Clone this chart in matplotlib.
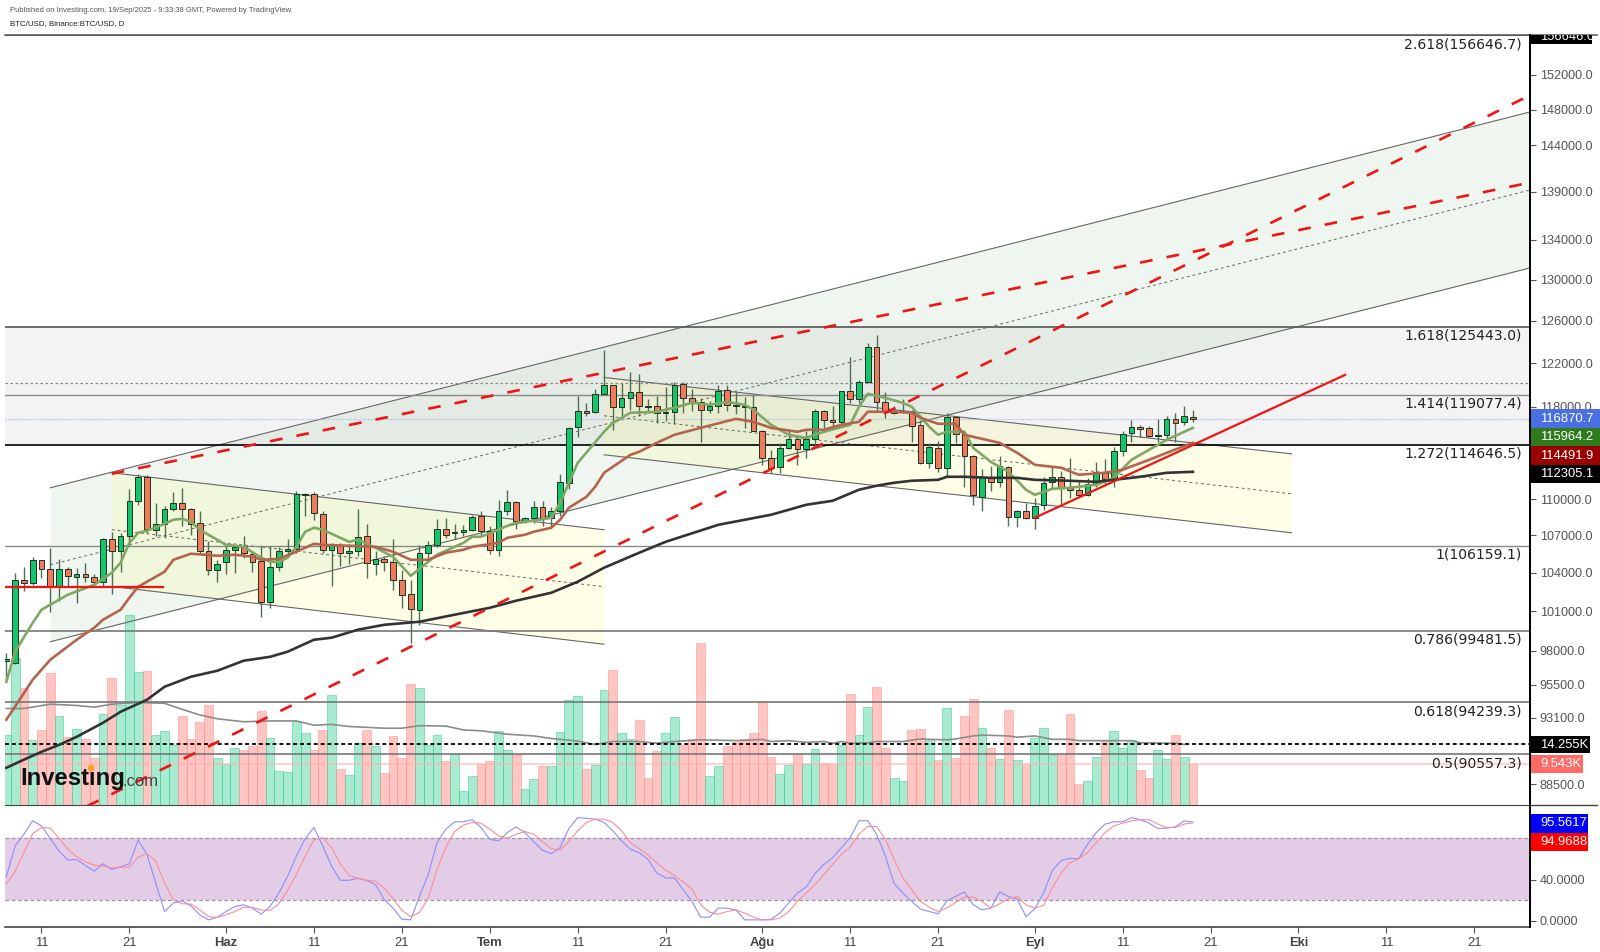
import matplotlib
matplotlib.use('Agg')
import matplotlib.pyplot as plt
from matplotlib.lines import Line2D
from matplotlib.patches import Rectangle, Circle
from matplotlib.ticker import NullLocator
from matplotlib.transforms import Bbox, IdentityTransform

W, H = 1600, 952

# days are counted from 11 May 2025, one candle per day up to 19 Sep
first_day = -4
opens = [97200, 97100, 103437, 103200, 104970, 104310, 102970, 104310, 103620, 103910, 103670, 103230,
         106720, 105750, 106960, 109850, 111880, 107400, 107940, 109185, 109685, 109185, 108020, 105700,
         104170, 104810, 105830, 106070, 105450, 104945, 101720, 104470, 105750, 105930, 110355, 110440,
         108770, 105830, 106230, 105530, 105750, 106960, 104700, 105100, 104810, 103437, 102340, 101100,
         105590, 106230, 107535, 107150, 107290, 107455, 108600, 107370, 105830, 109040, 109770, 108190,
         108380, 109350, 108380, 109040, 111370, 116220, 117640, 117560, 119180, 120000, 117950, 118810,
         119360, 118100, 118040, 117470, 117560, 120090, 118840, 118450, 117740, 118100, 119545, 118185,
         118100, 117950, 115870, 113450, 112750, 114370, 115160, 114280, 115160, 117650, 116840, 116660,
         119450, 118750, 120270, 123530, 118450, 117440, 117500, 117560, 116400, 113080, 114370, 112650,
         117130, 115600, 113680, 110190, 111880, 111400, 112680, 108520, 108960, 108380, 109460, 111400,
         111880, 110890, 110800, 110355, 111280, 112220, 111620, 114110, 115690, 116220, 116130, 115400,
         115515, 116930, 116660, 117100]
highs = [97800, 104000, 104470, 105210, 105024, 105990, 105100, 104470, 104390, 104790, 103910, 106800,
         107270, 107210, 110860, 112140, 112050, 109685, 109440, 110560, 110950, 109270, 109040, 106560,
         105024, 106150, 106230, 106960, 105700, 106100, 106100, 106070, 106720, 110640, 110525, 110560,
         109000, 106400, 106390, 106310, 109185, 107940, 105700, 105350, 106720, 104230, 103437, 106230,
         106560, 108350, 108440, 107940, 107860, 108690, 109020, 107780, 109934, 110720, 109870, 108520,
         109850, 109850, 109370, 112140, 116200, 118990, 118380, 119640, 123250, 120000, 120180, 121170,
         120950, 118720, 118990, 119760, 120300, 120300, 119640, 118810, 118540, 120000, 120000, 119300,
         118930, 119090, 115960, 114200, 114830, 115900, 115340, 115810, 117830, 117740, 118040, 119450,
         122590, 120457, 123900, 124650, 119300, 118040, 118720, 117740, 116840, 114810, 115010, 117470,
         117200, 115690, 113770, 112560, 112780, 113640, 112780, 109100, 109680, 110050, 111900, 112780,
         112390, 113510, 111490, 111790, 113110, 113420, 114490, 115870, 116840, 116400, 116310, 116930,
         117140, 117470, 118100, 117690]
lows = [95850, 97000, 102580, 103045, 103590, 100930, 101800, 102930, 101650, 103300, 102930, 102930,
        102340, 104050, 106150, 109520, 107210, 106960, 106800, 109040, 107780, 107045, 105600, 103830,
        103300, 103910, 103990, 105190, 104050, 100540, 101210, 104100, 105270, 105590, 108600, 108270,
        105590, 102970, 104520, 104700, 105290, 103590, 103830, 104150, 102600, 101240, 98590, 99950,
        104890, 106070, 106800, 106720, 106960, 107320, 106880, 105510, 105350, 108690, 107535, 108020,
        108020, 107780, 107700, 108550, 110860, 115340, 117140, 117490, 119180, 115960, 117140, 117740,
        117140, 117470, 116600, 116780, 116430, 117490, 117590, 114900, 117470, 117470, 117590, 117380,
        116130, 115810, 112905, 112220, 112220, 114280, 112905, 113500, 114490, 116130, 116250, 116580,
        118380, 118360, 120180, 117590, 116970, 117320, 117470, 114900, 112990, 112650, 112250, 111960,
        114810, 111040, 109520, 109040, 110640, 111040, 107780, 107700, 108350, 107535, 109100, 110880,
        109600, 110100, 110210, 110270, 110990, 111280, 111040, 113680, 114900, 115360, 115360, 114840,
        115073, 114900, 116400, 116640]
closes = [97400, 103437, 103200, 104970, 104290, 102970, 104310, 103700, 103910, 103620, 103230, 106720,
          105750, 106960, 109820, 111900, 107535, 107940, 109185, 109685, 109185, 107940, 105750, 104170,
          104700, 105830, 106070, 105590, 104810, 101720, 104470, 105750, 105910, 110440, 110440, 108850,
          105830, 106230, 105590, 105750, 106880, 104790, 105050, 104810, 103437, 102265, 101180, 105590,
          106230, 107535, 107045, 107290, 107400, 108520, 107320, 105830, 109020, 109770, 108190, 108380,
          109300, 108380, 109040, 111400, 116140, 117640, 117490, 119180, 119940, 117950, 118810, 119360,
          118040, 117950, 117470, 117560, 120000, 118840, 118450, 117740, 118100, 119480, 118185, 118040,
          117950, 115870, 113450, 112670, 114370, 115160, 114280, 115160, 117650, 116840, 116660, 119450,
          118750, 120270, 123530, 118480, 117560, 117560, 117560, 116310, 113080, 114460, 112650, 117130,
          115600, 113680, 110300, 111880, 111400, 112780, 108520, 108960, 108380, 109440, 111370, 111880,
          110890, 110780, 110300, 111280, 112310, 111650, 114110, 115600, 116220, 116070, 115450, 115515,
          116930, 116600, 117220, 116870]

volume_k = [16.3, 34.2, 27.2, 15.2, 17.5, 30.7, 20.7, 15.9, 17.7, 15.4, 11.0, 21.2, 29.5, 23.2, 44.3, 30.9,
            31.2, 16.3, 17.2, 14.1, 20.7, 15.4, 19.3, 23.2, 11.0, 9.5, 13.2, 12.8, 13.8, 21.9, 15.6, 8.0,
            7.7, 19.6, 16.7, 12.8, 17.5, 25.6, 8.5, 7.0, 14.5, 17.5, 13.8, 7.4, 16.1, 11.0, 28.3, 27.2,
            14.1, 16.4, 10.3, 12.0, 3.3, 6.8, 9.5, 10.3, 17.2, 12.8, 11.6, 3.7, 6.1, 9.1, 9.1, 16.9,
            24.5, 25.3, 8.3, 9.3, 26.7, 31.5, 16.7, 15.4, 19.7, 6.4, 12.6, 16.7, 20.4, 14.1, 15.5, 37.7,
            6.8, 9.1, 13.8, 14.8, 15.4, 16.7, 23.9, 11.3, 7.2, 9.3, 11.8, 9.6, 13.1, 9.9, 9.6, 14.1,
            25.9, 16.4, 22.8, 27.4, 13.4, 6.2, 5.6, 17.5, 17.7, 15.4, 10.5, 22.5, 11.0, 20.7, 24.7, 18.0,
            13.2, 10.7, 22.1, 10.5, 9.5, 15.7, 18.0, 11.6, 11.9, 21.2, 4.9, 5.6, 11.3, 15.2, 17.2, 13.4,
            15.2, 8.2, 6.4, 12.8, 10.7, 16.4, 11.3, 9.543]

vol_ma_days = [-4, -2, 1, 4, 6, 8, 11, 14, 16, 18, 20, 23, 26, 29, 31, 33, 35, 39, 41, 43, 46, 48, 50, 53, 56,
               58, 61, 63, 65, 68, 70, 72, 75, 79, 82, 83, 85, 87, 89, 90, 91, 92, 94, 95, 98, 100, 101, 103,
               104, 106, 107, 110, 111, 113, 115, 117, 118, 122, 124, 125, 129, 130]
vol_ma = [22.5, 22.5, 23.5, 23.2, 22.8, 23.5, 23.9, 23.7, 22.3, 21.0, 20.1, 19.4, 19.6, 19.6, 18.6, 18.8, 18.3,
          17.9, 17.9, 18.5, 18.4, 17.5, 17.3, 16.5, 16.1, 15.5, 14.9, 14.1, 14.8, 14.8, 14.4, 14.8, 15.2, 15.0,
          15.3, 14.8, 15.0, 14.6, 14.8, 14.4, 14.8, 14.4, 14.5, 14.8, 14.8, 15.4, 15.3, 15.2, 15.4, 16.1, 16.3,
          16.1, 15.8, 16.1, 15.3, 15.3, 15.0, 15.0, 15.0, 14.5, 14.4, 14.1]

ema_fast_days = [-4, -3, -1, 0, 1, 3, 6, 8, 9, 10, 11, 12, 14, 15, 16, 17, 18, 20, 21, 23, 25, 26, 27, 28, 29, 30,
                 31, 32, 34, 35, 36, 38, 40, 42, 43, 45, 48, 49, 50, 52, 53, 54, 56, 58, 59, 61, 64, 65, 67, 70,
                 72, 74, 76, 78, 80, 81, 83, 85, 87, 89, 92, 93, 94, 96, 98, 99, 101, 102, 103, 105, 106, 108,
                 110, 112, 113, 115, 117, 120, 122, 124, 126, 128, 130, 131]
ema_fast = [95700, 97920, 100100, 101100, 101490, 102265, 103045, 103990, 104790, 106390, 107210, 107370, 107940,
            108272, 108355, 108110, 107455, 106636, 106230, 106070, 105190, 104860, 104860, 105190, 106070, 107290,
            107620, 107455, 106800, 106470, 106636, 105990, 105270, 103750, 104310, 105430, 106390, 106880, 106880,
            107455, 107780, 108020, 108190, 108440, 109685, 113070, 115780, 116570, 117470, 117560, 117920, 118360,
            118185, 118450, 118185, 117740, 116400, 115515, 115250, 115780, 116400, 118010, 119180, 118810, 118360,
            118010, 116220, 115515, 115780, 115780, 114370, 113160, 112310, 110780, 110355, 110860, 110950, 111200,
            111790, 113334, 114200, 115073, 115780, 116130]

ema_mid_days = [-4, -1, 1, 4, 6, 7, 9, 10, 11, 14, 15, 17, 20, 22, 24, 25, 27, 29, 31, 32, 35, 38, 40, 42, 44, 46,
                48, 49, 52, 53, 55, 56, 58, 59, 60, 62, 63, 64, 67, 68, 70, 72, 75, 79, 81, 83, 86, 87, 89, 91, 93,
                94, 97, 99, 100, 102, 104, 105, 109, 111, 113, 116, 118, 121, 123, 126, 128, 131]
ema_mid = [92970, 95850, 97323, 98817, 99725, 100334, 101100, 102030, 102890, 104070, 105024, 105510, 105350, 105430,
           105270, 105024, 105100, 105670, 106310, 106230, 106150, 106070, 105670, 105024, 105024, 105590, 105830,
           106070, 106390, 106800, 107045, 107290, 107620, 108272, 109270, 110190, 111040, 112220, 113770, 114030,
           114810, 115515, 116130, 116930, 116660, 116130, 115780, 115960, 115960, 116400, 116660, 117560, 117560,
           117470, 117020, 116490, 116490, 115515, 114810, 113940, 112905, 112650, 112050, 112220, 112480, 113334,
           113940, 114810]

ema_slow_days = [-4, -2, 0, 2, 4, 7, 9, 12, 14, 17, 20, 23, 26, 28, 31, 33, 36, 39, 43, 47, 51, 54, 58, 61, 64, 68,
                 71, 77, 83, 85, 87, 90, 93, 95, 97, 99, 102, 103, 105, 108, 111, 113, 117, 120, 122, 125, 128, 131]
ema_slow = [89630, 90190, 90730, 91210, 91770, 92760, 93540, 94400, 95340, 96070, 96510, 97250, 97540, 97920, 98817,
            98970, 99575, 99950, 100180, 100720, 101250, 101800, 102420, 103280, 104390, 105590, 106470, 107860,
            108690, 109100, 109520, 109850, 110780, 111120, 111370, 111540, 111621, 111880, 111880, 111790, 111790,
            111621, 111540, 111450, 111621, 111880, 112220, 112305]

stoch_k = [42.6, 72.5, 83.9, 96.9, 92.0, 79.7, 67.6, 58.9, 59.5, 53.6, 48.1, 55.3, 49.8, 52.4, 55.3, 78.1, 64.4,
           36.7, 9.1, 17.2, 19.5, 14.6, 5.8, 1.0, 3.6, 9.1, 14.0, 15.6, 12.4, 6.5, 14.0, 27.0, 43.2, 62.8, 79.7,
           90.4, 72.5, 53.0, 39.3, 39.3, 41.3, 39.1, 35.1, 20.5, 12.4, 1.6, 1.0, 23.7, 44.9, 75.8, 88.8, 95.9, 95.9,
           97.9, 90.4, 79.0, 77.4, 85.5, 91.0, 85.5, 76.7, 68.3, 65.0, 70.9, 89.4, 100.0, 99.2, 98.5,
           95.3, 87.2, 77.4, 69.3, 66.0, 59.5, 46.5, 41.6, 41.6, 30.2, 18.9, 3.6, 3.6, 12.4, 12.4, 10.7, 1.0, 1.0,
           1.0, 1.6, 7.5, 17.2, 27.0, 32.8, 45.8, 54.6, 61.1, 70.9, 80.6, 96.9, 96.9, 83.9, 62.8, 36.1, 27.0, 18.9,
           11.4, 9.1, 6.8, 19.5, 23.7, 28.0, 15.6, 10.7, 12.4, 28.0, 23.7, 21.1, 4.2, 11.7, 27.0, 48.8, 58.5, 60.5,
           60.2, 74.1, 85.5, 93.7, 95.9, 95.9, 100.0, 97.9, 94.6, 89.4, 89.8, 91.0, 96.9, 95.56]
stoch_d = [35.7, 48.1, 66.0, 84.5, 90.4, 89.8, 79.7, 69.3, 62.1, 57.2, 54.0, 53.0, 51.4, 52.0, 52.0, 61.8, 65.0,
           57.9, 36.7, 20.5, 16.6, 16.3, 10.7, 4.2, 3.3, 5.8, 9.1, 13.3, 13.0, 10.7, 10.1, 16.6, 29.6, 44.9, 62.8,
           78.4, 80.6, 70.9, 55.3, 43.9, 41.0, 39.3, 38.4, 31.9, 21.5, 10.1, 4.2, 8.1, 22.1, 49.8, 70.9, 86.5, 92.7,
           95.3, 94.6, 88.8, 82.3, 80.0, 83.9, 86.5, 83.9, 76.7, 69.9, 68.6, 76.7, 87.2, 95.3, 98.5,
           98.5, 95.3, 87.2, 75.8, 69.9, 63.7, 56.2, 49.1, 43.9, 37.7, 30.9, 15.6, 8.4, 6.5, 9.1, 10.7, 7.5, 3.6,
           1.0, 1.0, 2.6, 9.1, 18.9, 27.0, 35.1, 44.9, 54.6, 64.4, 71.5, 83.9, 91.4, 91.4, 79.0, 59.5, 41.6, 30.2,
           18.9, 13.3, 9.1, 12.4, 17.9, 23.1, 23.1, 18.9, 12.4, 16.6, 21.5, 23.7, 15.6, 12.4, 15.0, 31.9, 46.5, 56.2,
           60.2, 66.0, 75.8, 85.5, 92.0, 94.6, 96.9, 97.9, 97.9, 93.7, 90.4, 90.4, 93.7, 94.97]

price_ticks = [152000, 148000, 144000, 139000, 134000, 130000, 126000, 122000, 118000, 110000, 107000,
               104000, 101000, 98000, 95500, 93100, 88500]
date_ticks = [0, 10, 21, 31, 41, 51, 61, 71, 82, 92, 102, 113, 123, 133, 143, 153, 163]
date_labels = ['11', '21', 'Haz', '11', '21', 'Tem', '11', '21', 'Ağu', '11', '21', 'Eyl', '11', '21', 'Eki', '11', '21']
month_labels = ['Haz', 'Tem', 'Ağu', 'Eyl', 'Eki']

fib_ratios = ['2.618', '1.618', '1.414', '1.272', '1', '0.786', '0.618', '0.5']
fib_prices = [156646.7, 125443.0, 119077.4, 114646.5, 106159.1, 99481.5, 94239.3, 90557.3]

# channels as (left day, right day, [upper left, mid left, lower left], [upper right, mid right, lower right])
rising_days = (1, 169.4)
rising_left = [110946, 104625, 98667]
rising_right = [147740, 139210, 131185]
falling1_days = (8, 64)
falling1_left = [112220, 107455, 102910]
falling1_right = [107455, 102890, 98480]
falling2_days = (64, 142.2)
falling2_left = [120670, 117200, 113770]
falling2_right = [113850, 110440, 107210]

days = list(range(first_day, first_day + len(closes)))
green = '#17c46c'
orange = '#f17a5c'
trend_red = '#f01414'


def fx(x):
    return x / W


def fy(y):
    return 1 - y / H


def axes_rect(left, top, right, bottom):
    return [fx(left), fy(bottom), fx(right) - fx(left), fy(top) - fy(bottom)]


def price_box(text, y0, y1, color, right=1600):
    fig.add_artist(Rectangle((fx(1531), fy(y1)), fx(right) - fx(1531), fy(y0) - fy(y1), transform=fig.transFigure,
                             facecolor=color, edgecolor='none', zorder=10))
    fig.text(fx(1540), fy((y0 + y1) / 2), text, color='white', fontsize=9.4, family='Liberation Sans',
             va='center', ha='left', zorder=11)


plt.rcParams['font.family'] = ['Liberation Sans', 'DejaVu Sans']
fig = plt.figure(figsize=(W / 100, H / 100), dpi=100, facecolor='white')

ax_vol = fig.add_axes(axes_rect(5, 35, 1530, 805))
ax = fig.add_axes(axes_rect(5, 35, 1530, 805), sharex=ax_vol)
ax_st = fig.add_axes(axes_rect(5, 806, 1530, 927), sharex=ax_vol)
ax.set_zorder(2)
ax_vol.set_zorder(1)
ax.patch.set_visible(False)

xmin, xmax = -4.15, 169.34
ax.set_yscale('log')
ax.set_ylim(87127, 156646.7)
ax.set_xlim(xmin, xmax)

# background of the fib levels
ax.axhspan(fib_prices[3], fib_prices[1], color='#f3f3f3', zorder=0, lw=0)


def channel(day_pair, left, right, fill, alpha):
    ax.fill_between(day_pair, [left[0], right[0]], [left[2], right[2]], color=fill, alpha=alpha, lw=0, zorder=1)
    ax.plot(day_pair, [left[0], right[0]], color='#666666', lw=0.8, zorder=2)
    ax.plot(day_pair, [left[2], right[2]], color='#666666', lw=0.8, zorder=2)
    ax.plot(day_pair, [left[1], right[1]], color='#666666', lw=0.7, ls=(0, (3, 3)), zorder=2)


channel(rising_days, rising_left, rising_right, '#4c9c4c', 0.085)
channel(falling1_days, falling1_left, falling1_right, '#ffff66', 0.15)
channel(falling2_days, falling2_left, falling2_right, '#ffff66', 0.15)

# fib lines and their labels
fib_colors = ['#444444', '#555555', '#888888', '#000000', '#888888', '#777777', '#777777', '#777777']
for ratio, level, col in zip(fib_ratios, fib_prices, fib_colors):
    ax.axhline(level, color=col, lw=1.2 if col != '#888888' else 1.0, zorder=3)
    ax.annotate(f'{ratio}({level:.1f})', xy=(1, level), xycoords=('axes fraction', 'data'),
                xytext=(-6, -6.5), textcoords='offset points', ha='right', va='center',
                fontsize=10.1, family='DejaVu Sans', color='#222222', zorder=9)
ax.axhline(120200, color='#888888', lw=0.9, ls=(0, (2, 2)), zorder=3)
ax.axhline(116870.7, color='#a9b8ee', lw=0.9, ls=(0, (1, 1)), zorder=3)

# trend lines
ax.plot([8, 168.7], [112140, 139860], color=trend_red, lw=1.9, ls=(0, (4.8, 5.4)), zorder=8)
ax.plot([5.2, 169.4], [87050, 149650], color=trend_red, lw=1.9, ls=(0, (4.8, 5.4)), zorder=8)
ax.plot([-4, 13.8], [102900, 102900], color=trend_red, lw=1.6, zorder=8)
ax.plot([113, 148.3], [108440, 120910], color=trend_red, lw=1.6, zorder=8)

# candles
up = [c >= o for o, c in zip(opens, closes)]
ax.vlines(days, lows, highs, color='#4f6f55', lw=1.0, zorder=5)
ax.bar(days, [abs(c - o) for o, c in zip(opens, closes)], bottom=[min(o, c) for o, c in zip(opens, closes)],
       width=0.65, color=[green if u else orange for u in up], edgecolor='#1d3322', lw=0.7, zorder=6)

# moving averages
ax.plot(ema_fast_days, ema_fast, color='#7fa864', lw=1.9, zorder=7)
ax.plot(ema_mid_days, ema_mid, color='#b3644f', lw=1.9, zorder=7)
ax.plot(ema_slow_days, ema_slow, color='#333333', lw=1.9, zorder=7)

# volume, on its own linear scale under the price candles
ax_vol.set_ylim(0, 770 / 4.29)
ax_vol.bar(days, volume_k, width=1.0, color=['#52d8a2' if u else '#ff8d86' for u in up], alpha=0.5,
           edgecolor=['#35c88f' if u else '#ff8d86' for u in up], lw=0.7)
ax_vol.plot(vol_ma_days, vol_ma, color='#8c8c8c', lw=1.2)
ax_vol.axhline(14.255, color='black', lw=1.3, ls=(0, (2.2, 1.6)), zorder=4)
ax_vol.axhline(9.543, color='#ffb3ae', lw=1.4, alpha=0.6, zorder=4)
ax_vol.axis('off')

# axes look
for side in ('left', 'top'):
    ax.spines[side].set_visible(False)
ax.spines['bottom'].set_color('#444444')
ax.spines['right'].set_color('black')
ax.spines['right'].set_linewidth(1.3)
ax.set_yticks(price_ticks, labels=[f'{p:.1f}' for p in price_ticks])
ax.yaxis.set_minor_locator(NullLocator())
ax.tick_params(axis='y', which='major', left=False, labelleft=False, right=True, labelright=True,
               length=4, width=0.8, color='#555555', labelcolor='#555555', labelsize=9.1, pad=3)
ax.tick_params(axis='x', which='both', bottom=False, labelbottom=False)

# stochastic pane
ax_st.set_ylim(-5.9, 111.2)
ax_st.axhspan(20, 80, color='#e3cde6', lw=0, zorder=1)
ax_st.axhline(80, color='#a58fa8', lw=0.9, ls=(0, (3, 2)), zorder=2)
ax_st.axhline(20, color='#a58fa8', lw=0.9, ls=(0, (3, 2)), zorder=2)
ax_st.plot(days, stoch_k, color='#8d8dfa', lw=0.8, zorder=3)
ax_st.plot(days, stoch_d, color='#fa8d96', lw=0.8, zorder=4)
for side in ('left', 'top'):
    ax_st.spines[side].set_visible(False)
ax_st.spines['right'].set_color('black')
ax_st.spines['right'].set_linewidth(1.3)
ax_st.spines['bottom'].set_color('#444444')
ax_st.spines['bottom'].set_linewidth(1.2)
ax_st.set_yticks([0, 40], labels=['0.0000', '40.0000'])
ax_st.tick_params(axis='y', left=False, labelleft=False, right=True, labelright=True, length=4, width=0.8,
                  color='#555555', labelcolor='#555555', labelsize=9.1, pad=3)
ax_st.set_xticks(date_ticks, labels=date_labels)
ax_st.tick_params(axis='x', length=4, width=0.8, color='#555555', labelcolor='#444444', labelsize=9.4, pad=3)
for lab in ax_st.get_xticklabels():
    if lab.get_text() in month_labels:
        lab.set_fontweight('bold')
ax_st.set_xlim(xmin, xmax)

# lines running on past the pane, header, logo
fig.add_artist(Line2D([fx(5), fx(1597)], [fy(35), fy(35)], color='#555555', lw=1.1, zorder=5))
fig.add_artist(Line2D([fx(1530), fx(1597)], [fy(805), fy(805)], color='#444444', lw=1.0, zorder=5))
fig.add_artist(Line2D([fx(1530), fx(1530)], [fy(35), fy(927)], color='black', lw=1.3, zorder=5))

fig.text(fx(10), fy(10), 'Published on Investing.com, 19/Sep/2025 - 9:33:38 GMT, Powered by TradingView.',
         fontsize=5.5, color='#555555', va='center')
fig.text(fx(10), fy(24), 'BTC/USD, Binance:BTC/USD, D', fontsize=5.7, color='#222222', va='center')

fig.text(fx(20), fy(778), 'Investing', fontsize=17.2, fontweight='bold', color='#111111', va='center', zorder=9)
fig.text(fx(123), fy(781), '.com', fontsize=12, color='#444444', va='center', zorder=9)
fig.add_artist(Circle((91, H - 768), 2.5, transform=IdentityTransform(), color='#f5a31a', zorder=10))

# price and value boxes on the right
price_box('116870.7', 409, 428, '#4a6fe3')
price_box('115964.2', 428, 446, '#2f7a1a')
price_box('114491.9', 446, 465, '#990000')
price_box('112305.1', 465, 483, '#000000')
price_box('14.255K', 736, 753, '#000000', right=1590)
price_box('9.543K', 755, 773, '#ff6a64', right=1583)
price_box('95.5617', 814, 833, '#0000ff', right=1588)
price_box('94.9688', 833, 851, '#ff0000', right=1588)

fig.add_artist(Rectangle((fx(1531), fy(44)), fx(1592) - fx(1531), fy(35) - fy(44), transform=fig.transFigure,
                         facecolor='black', edgecolor='none', zorder=10))
top_label = fig.text(fx(1540), fy(36.5), '156646.0', color='white', fontsize=9.4, va='center', zorder=11)
top_label.set_clip_box(Bbox([[1531, H - 44], [1592, H - 35]]))
top_label.set_clip_on(True)

fig.savefig('out.png', dpi=100)
